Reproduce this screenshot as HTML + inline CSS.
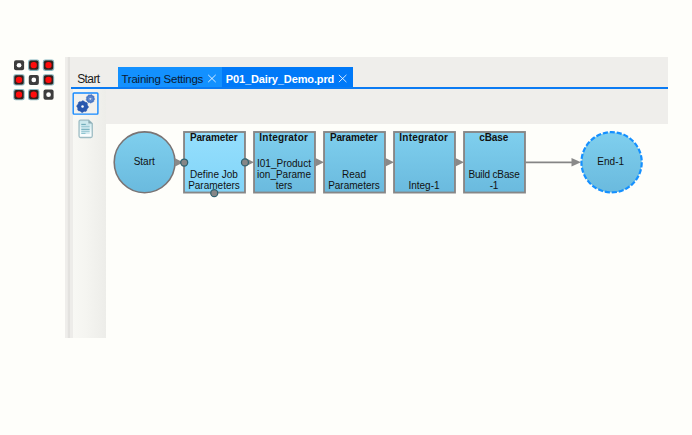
<!DOCTYPE html>
<html><head><meta charset="utf-8">
<style>
html,body{margin:0;padding:0;}
body{width:692px;height:435px;background:#fefefa;position:relative;overflow:hidden;font-family:"Liberation Sans",sans-serif;}
.abs{position:absolute;}
#top{left:65px;top:57px;width:603px;height:67px;background:#efeeeb;}
#side{left:65px;top:57px;width:41px;height:280.7px;background:linear-gradient(90deg,#efeeeb 0,#efeeeb 2.4px,#e3e2df 2.8px,#e3e2df 4.7px,#edece9 5.1px,#edece9 7.7px,#f8f8f4 8.2px,#f5f5f1 20px,#edede9 41px);}
#side2{left:70px;top:57px;width:36px;height:32px;background:#efeeeb;}
#line{left:70.5px;top:87px;width:597.5px;height:2px;background:#0b7bf3;}
#tab1{left:118px;top:67px;width:104px;height:20px;background:#1391ff;}
#tab2{left:222px;top:67px;width:131px;height:20px;background:#0079f8;}
#gbox{left:73px;top:92.5px;width:26px;height:22px;box-sizing:border-box;border:1.2px solid #1e8fff;background:#f3f2f0;}
.tt{position:absolute;white-space:nowrap;font-size:11.5px;line-height:14px;color:#1a1a1a;}
.node{position:absolute;width:62.8px;height:62.4px;top:131.1px;font-size:10px;line-height:11px;color:#111;text-align:center;}
.node b{position:absolute;left:0;right:1.6px;top:1.1px;letter-spacing:-0.15px;}
.node span{position:absolute;left:3px;right:4px;bottom:2.2px;overflow-wrap:anywhere;}
.circ{border-radius:50%;}
.circ div{margin-top:25px;font-size:10px;}
</style></head><body>
<div class="abs" id="top"></div>
<div class="abs" id="side"></div><div class="abs" id="side2"></div>
<div class="abs" id="tab1"></div>
<div class="abs" id="tab2"></div>
<div class="abs" id="line"></div>
<div class="tt" style="left:77.2px;top:72px;font-size:12px;letter-spacing:-0.6px;">Start</div>
<div class="tt" id="t1" style="left:121.5px;top:72px;color:#0b1a33;letter-spacing:-0.25px;">Training Settings</div>
<div class="tt" id="t2" style="left:225.7px;top:72px;color:#fff;font-weight:bold;font-size:11px;letter-spacing:-0.12px;">P01_Dairy_Demo.prd</div>
<svg class="abs" style="left:0;top:0" width="692" height="435" viewBox="0 0 692 435"><defs><linearGradient id="g1" x1="0" y1="0" x2="0" y2="1"><stop offset="0" stop-color="#7fcfee"/><stop offset="1" stop-color="#6abade"/></linearGradient><linearGradient id="g2" x1="0" y1="0" x2="0" y2="1"><stop offset="0" stop-color="#95dffd"/><stop offset="1" stop-color="#82d4f8"/></linearGradient></defs><circle cx="144.6" cy="162.3" r="30.4" fill="url(#g1)" stroke="#7a7474" stroke-width="1.6"/><rect x="184.05" y="132.0" width="60.9" height="60.55" fill="url(#g2)" stroke="#878787" stroke-width="1.9"/><rect x="254.05" y="132.0" width="60.9" height="60.55" fill="url(#g1)" stroke="#878787" stroke-width="1.9"/><rect x="324.05" y="132.0" width="60.9" height="60.55" fill="url(#g1)" stroke="#878787" stroke-width="1.9"/><rect x="394.05" y="132.0" width="60.9" height="60.55" fill="url(#g1)" stroke="#878787" stroke-width="1.9"/><rect x="464.05" y="132.0" width="60.9" height="60.55" fill="url(#g1)" stroke="#878787" stroke-width="1.9"/><circle cx="611.6" cy="162.3" r="30.15" fill="url(#g1)" stroke="#1590ff" stroke-width="2.2" stroke-dasharray="5.1 1.9"/></svg>
<div class="node circ" style="left:112.8px;"><div>Start</div></div>
<div class="node" style="left:183.1px;"><b>Parameter</b><span>Define Job Parameters</span></div>
<div class="node" style="left:253.1px;"><b style="letter-spacing:0.2px">Integrator</b><span>I01_Production_Parameters</span></div>
<div class="node" style="left:323.1px;"><b>Parameter</b><span>Read Parameters</span></div>
<div class="node" style="left:393.1px;"><b style="letter-spacing:0.2px">Integrator</b><span>Integ-1</span></div>
<div class="node" style="left:463.1px;"><b>cBase</b><span style="letter-spacing:-0.15px">Build cBase -1</span></div>
<div class="node circ" style="left:579.3px;"><div>End-1</div></div>
<svg class="abs" style="left:0;top:0" width="692" height="435" viewBox="0 0 692 435">
<defs><filter id="bl2" x="-10%" y="-10%" width="120%" height="120%"><feGaussianBlur stdDeviation="0.3"/></filter><filter id="bl" x="-10%" y="-10%" width="120%" height="120%"><feGaussianBlur stdDeviation="0.35"/></filter></defs><g id="grid" filter="url(#bl)">
<rect x="14.00" y="60.20" width="10.1" height="10.1" rx="2" fill="#3c3c3c"/>
<circle cx="19.05" cy="65.25" r="2.35" fill="#ffffff"/>
<rect x="28.05" y="59.60" width="11.4" height="11.3" rx="2.4" fill="#86b6bf"/>
<rect x="29.10" y="60.55" width="9.3" height="9.3" rx="1.8" fill="#33201f"/>
<rect x="30.65" y="62.10" width="6.2" height="6.2" rx="2.7" fill="#ff0808"/>
<rect x="42.80" y="59.60" width="11.4" height="11.3" rx="2.4" fill="#86b6bf"/>
<rect x="43.85" y="60.55" width="9.3" height="9.3" rx="1.8" fill="#33201f"/>
<rect x="45.40" y="62.10" width="6.2" height="6.2" rx="2.7" fill="#ff0808"/>
<rect x="13.30" y="74.30" width="11.4" height="11.3" rx="2.4" fill="#86b6bf"/>
<rect x="14.35" y="75.25" width="9.3" height="9.3" rx="1.8" fill="#33201f"/>
<rect x="15.90" y="76.80" width="6.2" height="6.2" rx="2.7" fill="#ff0808"/>
<rect x="28.75" y="74.90" width="10.1" height="10.1" rx="2" fill="#3c3c3c"/>
<circle cx="33.80" cy="79.95" r="2.35" fill="#ffffff"/>
<rect x="42.80" y="74.30" width="11.4" height="11.3" rx="2.4" fill="#86b6bf"/>
<rect x="43.85" y="75.25" width="9.3" height="9.3" rx="1.8" fill="#33201f"/>
<rect x="45.40" y="76.80" width="6.2" height="6.2" rx="2.7" fill="#ff0808"/>
<rect x="13.30" y="89.00" width="11.4" height="11.3" rx="2.4" fill="#86b6bf"/>
<rect x="14.35" y="89.95" width="9.3" height="9.3" rx="1.8" fill="#33201f"/>
<rect x="15.90" y="91.50" width="6.2" height="6.2" rx="2.7" fill="#ff0808"/>
<rect x="28.05" y="89.00" width="11.4" height="11.3" rx="2.4" fill="#86b6bf"/>
<rect x="29.10" y="89.95" width="9.3" height="9.3" rx="1.8" fill="#33201f"/>
<rect x="30.65" y="91.50" width="6.2" height="6.2" rx="2.7" fill="#ff0808"/>
<rect x="43.50" y="89.60" width="10.1" height="10.1" rx="2" fill="#3c3c3c"/>
<circle cx="48.55" cy="94.65" r="2.35" fill="#ffffff"/>
</g>
<rect x="73.2" y="93.0" width="24.7" height="21.1" rx="0.8" fill="#f2f1ee" stroke="#1489ff" stroke-width="1.4"/><g id="gears" filter="url(#bl2)"><polygon points="88.35,106.60 88.24,107.73 87.31,108.57 86.83,109.46 86.65,110.70 85.77,111.42 84.52,111.36 83.55,111.65 82.55,112.40 81.42,112.29 80.58,111.36 79.69,110.88 78.45,110.70 77.73,109.82 77.79,108.57 77.50,107.60 76.75,106.60 76.86,105.47 77.79,104.63 78.27,103.74 78.45,102.50 79.33,101.78 80.58,101.84 81.55,101.55 82.55,100.80 83.68,100.91 84.52,101.84 85.41,102.32 86.65,102.50 87.37,103.38 87.31,104.63 87.60,105.60" fill="#2a59ae" stroke="#2a59ae" stroke-width="0.6" stroke-linejoin="round"/><circle cx="82.55" cy="106.6" r="1.25" fill="#ffffff"/><polygon points="94.65,98.80 94.59,99.54 94.02,100.12 93.73,100.72 93.66,101.53 93.13,102.06 92.33,102.13 91.72,102.42 91.14,102.99 90.40,103.05 89.73,102.59 89.08,102.42 88.28,102.48 87.67,102.06 87.45,101.27 87.07,100.72 86.41,100.25 86.21,99.54 86.55,98.80 86.61,98.13 86.41,97.35 86.72,96.67 87.45,96.33 87.93,95.85 88.28,95.12 88.95,94.81 89.73,95.01 90.40,94.95 91.14,94.61 91.85,94.81 92.33,95.47 92.87,95.85 93.66,96.07 94.08,96.67 94.02,97.48 94.19,98.13" fill="#4a76c3" stroke="#4a76c3" stroke-width="0.6" stroke-linejoin="round"/><circle cx="90.4" cy="98.8" r="1.15" fill="#c9d6ee"/><circle cx="90.4" cy="98.8" r="2.2" fill="none" stroke="#6a90d2" stroke-width="0.8"/></g>
<g id="doc">
<defs><linearGradient id="dg" x1="0" y1="0" x2="0" y2="1"><stop offset="0" stop-color="#c4e6ec"/><stop offset="0.7" stop-color="#f2fafb"/><stop offset="1" stop-color="#ffffff"/></linearGradient></defs>
<path d="M80.5 120.15 H88.6 L92.25 123.6 V136 Q92.25 137.5 90.75 137.5 H80.5 Q79.05 137.5 79.05 136 V121.6 Q79.05 120.15 80.5 120.15 Z" fill="url(#dg)" stroke="#9dbcc3" stroke-width="1.3"/>
<path d="M88.4 120.3 V123.6 H92.2 Z" fill="#8aaab2"/>
<rect x="81.2" y="123.8" width="8.5" height="10.2" fill="#b9dde5" opacity="0.55"/><g stroke-width="1.1" fill="none"><path d="M81.3 124.4H85.8" stroke="#6fabb9"/><path d="M81.3 126.6H89.6" stroke="#9dcbd5"/><path d="M81.3 129.4H89.6" stroke="#78b2bf"/><path d="M81.3 131.4H89.6" stroke="#9dcbd5"/><path d="M81.3 133.4H85.5" stroke="#8cc3cf"/></g>
</g>
<g stroke="#ffffff" stroke-opacity="0.88" stroke-width="0.95" fill="none">
<path d="M208.2 74.9 L215.7 82.1 M215.7 74.9 L208.2 82.1"/>
<path d="M338.9 74.9 L346.4 82.1 M346.4 74.9 L338.9 82.1"/>
</g>
<g id="arrows"><polygon points="174.6,158.1 183.2,162.4 174.6,166.70000000000002" fill="#898989"/><polygon points="245.4,158.0 254.0,162.3 245.4,166.60000000000002" fill="#898989"/><polygon points="315.40000000000003,158.0 324.0,162.3 315.40000000000003,166.60000000000002" fill="#898989"/><polygon points="385.40000000000003,158.0 394.0,162.3 385.40000000000003,166.60000000000002" fill="#898989"/><polygon points="455.40000000000003,158.0 464.0,162.3 455.40000000000003,166.60000000000002" fill="#898989"/><line x1="525.5" y1="162.35" x2="573" y2="162.35" stroke="#858585" stroke-width="1.8"/><polygon points="571.5,158.10000000000002 581,162.3 571.5,166.5" fill="#898989"/></g>
<g id="dots"><circle cx="184.2" cy="162.5" r="3.5" fill="#868686" stroke="#2f6270" stroke-width="1.25"/><circle cx="244.95" cy="162.45" r="3.5" fill="#868686" stroke="#2f6270" stroke-width="1.25"/><circle cx="214.25" cy="193.15" r="3.5" fill="#868686" stroke="#2f6270" stroke-width="1.25"/></g>
</svg>
</body></html>
